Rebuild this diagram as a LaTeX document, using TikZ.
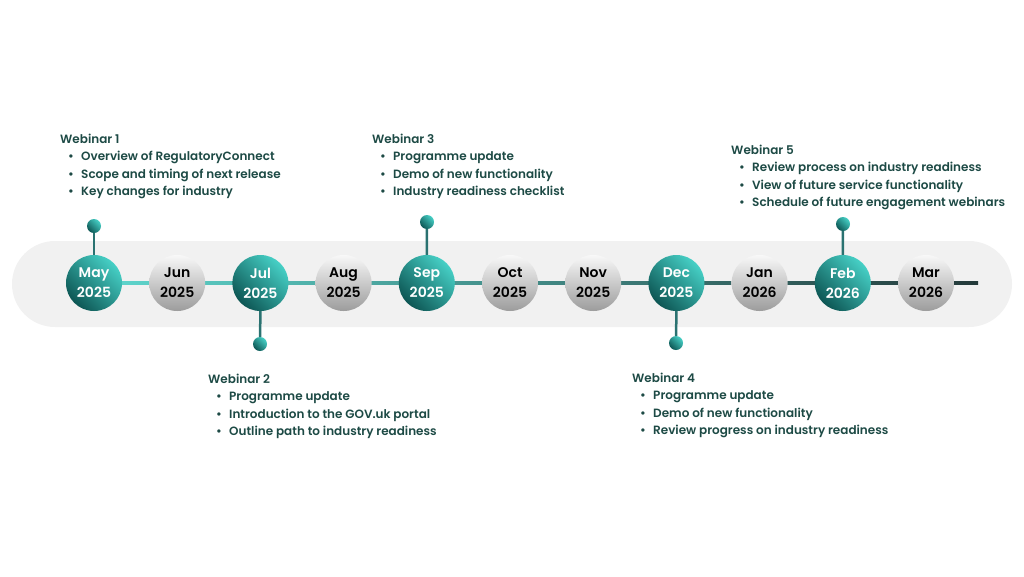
\documentclass[tikz,border=0pt]{standalone}
\usepackage{fontspec}
\setmainfont{Poppins}[UprightFont=* Medium, BoldFont=* SemiBold]
\usetikzlibrary{positioning}

\definecolor{bandgray}{HTML}{F1F1F1}
\definecolor{teallight}{HTML}{46D0C6}
\definecolor{tealdark}{HTML}{0D5654}
\definecolor{graylight}{HTML}{F8F8F8}
\definecolor{graydark}{HTML}{9C9C9C}
\definecolor{lineleft}{HTML}{5FD8CF}
\definecolor{linemid}{HTML}{3B9A96}
\definecolor{lineright}{HTML}{243A3A}
\definecolor{stemteal}{HTML}{2A7271}
\definecolor{inkteal}{HTML}{1D4A45}

\newcommand{\webitem}[1]{\hspace*{8pt}\makebox[13pt][l]{•}#1}

\begin{document}
\begin{tikzpicture}[x=1pt,y=-1pt,
  month/.style={circle, minimum size=56pt, inner sep=0pt, align=center,
    font=\bfseries\fontsize{14}{20}\selectfont},
  keymonth/.style={month, top color=teallight, bottom color=tealdark,
    shading angle=-45, text=white},
  plainmonth/.style={month, top color=graylight, bottom color=graydark,
    text=black},
  pin/.style={circle, minimum size=14pt, inner sep=0pt, top color=teallight,
    bottom color=tealdark, shading angle=-45},
  stem/.style={draw=stemteal, line width=2.5pt},
  notes/.style={anchor=north west, inner sep=0pt, align=left, text=inkteal,
    font=\bfseries\fontsize{12}{17.5}\selectfont}]

\useasboundingbox (0,0) rectangle (1024,576);

% Background band
\fill[bandgray, rounded corners=43pt] (12,241) rectangle (1012,327);

% Timeline line
\shade[left color=lineleft, middle color=linemid, right color=lineright]
  (94,281.8) rectangle (978,284.6);

% Months
\foreach \mon/\yr/\sty [count=\i] in {May/2025/keymonth, Jun/2025/plainmonth,
    Jul/2025/keymonth, Aug/2025/plainmonth, Sep/2025/keymonth,
    Oct/2025/plainmonth, Nov/2025/plainmonth, Dec/2025/keymonth,
    Jan/2026/plainmonth, Feb/2026/keymonth, Mar/2026/plainmonth}
  \node[\sty] (m\i) at ({94+83.2*(\i-1)},283) {\mon\\\yr};

% Pins
\node[pin] (d1) at (94,226) {};
\node[pin] (d2) at (260,344) {};
\node[pin] (d3) at (427,222) {};
\node[pin] (d4) at (676,343) {};
\node[pin] (d5) at (843,224) {};

\draw[stem] (m1.north) -- (d1);
\draw[stem] (m3.south) -- (d2);
\draw[stem] (m5.north) -- (d3);
\draw[stem] (m8.south) -- (d4);
\draw[stem] (m10.north) -- (d5);

% Webinar notes
\node[notes] (w1) at (60,133.5) {Webinar 1\\
  \webitem{Overview of RegulatoryConnect}\\
  \webitem{Scope and timing of next release}\\
  \webitem{Key changes for industry}};

\node[notes] (w2) at (208,373.5) {Webinar 2\\
  \webitem{Programme update}\\
  \webitem{Introduction to the GOV.uk portal}\\
  \webitem{Outline path to industry readiness}};

\node[notes] (w3) at (372,133.5) {Webinar 3\\
  \webitem{Programme update}\\
  \webitem{Demo of new functionality}\\
  \webitem{Industry readiness checklist}};

\node[notes] (w4) at (632,372.5) {Webinar 4\\
  \webitem{Programme update}\\
  \webitem{Demo of new functionality}\\
  \webitem{Review progress on industry readiness}};

\node[notes] (w5) at (731,144.5) {Webinar 5\\
  \webitem{Review process on industry readiness}\\
  \webitem{View of future service functionality}\\
  \webitem{Schedule of future engagement webinars}};

\end{tikzpicture}
\end{document}
